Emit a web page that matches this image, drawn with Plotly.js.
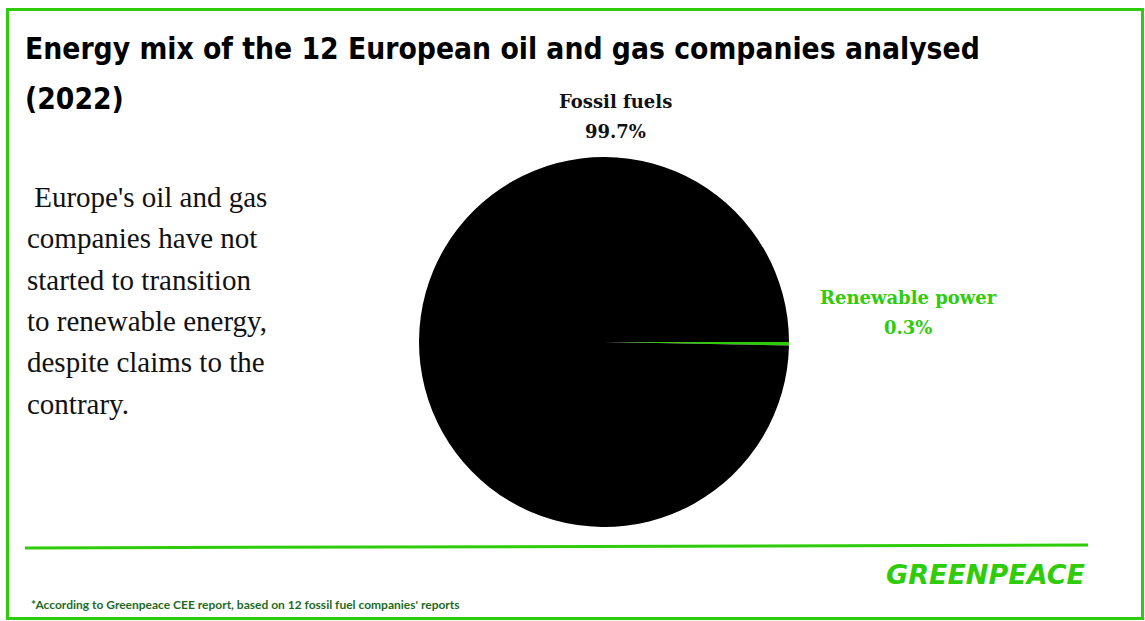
<!DOCTYPE html>
<html><head><meta charset="utf-8">
<script src="https://cdn.plot.ly/plotly-3.0.1.min.js"></script>
<style>html,body{margin:0;padding:0;background:#fff}#chart{width:1145px;height:621px}</style>
</head><body><div id="chart"></div>
<script>
const categories = ["Renewable power", "Fossil fuels"];
const shares = [0.3, 99.7];
const sliceColors = ["#2ECC0A", "#000000"];
const labelColors = ["#2ECC0A", "#111111"];
const titleLines = ["Energy mix of the 12 European oil and gas companies analysed", "(2022)"];
const bodyLines = [" Europe's oil and gas", "companies have not", "started to transition", "to renewable energy,", "despite claims to the", "contrary."];
const footnote = "*According to Greenpeace CEE report, based on 12 fossil fuel companies' reports";
const GREEN = "#2ECC0A";
const W = 1145, H = 621;
const px = x => x / W, py = y => 1 - y / H;

// pick an installed condensed font for the title
const cv = document.createElement("canvas").getContext("2d");
function widthOf(fam, size) { cv.font = "bold " + size + "px " + fam; return cv.measureText(titleLines[0]).width; }
const cands = ["Liberation Sans Narrow", "DejaVu Sans Condensed", "Roboto Condensed", "Arial Narrow", "Noto Sans Condensed", "Liberation Sans"];
let titleFam = "Liberation Sans";
for (const f of cands) {
  const a = widthOf("'" + f + "', monospace", 40), b = widthOf("monospace", 40);
  const c = widthOf("'" + f + "', serif", 40), d = widthOf("serif", 40);
  if (Math.abs(a - b) > 1 || Math.abs(c - d) > 1) { titleFam = f; break; }
}
const titleSize = Math.min(38, 37 * 955 / widthOf("'" + titleFam + "'", 37));

const annotations = [];
titleLines.forEach((t, i) => {
  annotations.push({text: "<b>" + t + "</b>", xref: "paper", yref: "paper", x: px(23), y: py(48 + i * 50),
    xanchor: "left", yanchor: "middle", showarrow: false, align: "left",
    font: {family: titleFam, size: titleSize, color: "#000"}});
});
bodyLines.forEach((t, i) => {
  annotations.push({text: t, xref: "paper", yref: "paper", x: px(25), y: py(197 + i * 41.3),
    xanchor: "left", yanchor: "middle", showarrow: false, align: "left",
    font: {family: "Liberation Serif, serif", size: 29, color: "#111"}});
});
const labelPos = [[908, 297], [615, 101]];
categories.forEach((c, i) => {
  [c, shares[i] + "%"].forEach((t, j) => {
    annotations.push({text: "<b>" + t + "</b>", xref: "paper", yref: "paper",
      x: px(labelPos[i][0]), y: py(labelPos[i][1] + j * 30), xanchor: "center", yanchor: "middle", showarrow: false,
      align: "center", font: {family: "DejaVu Serif, serif", size: 18, color: labelColors[i]}});
  });
});
annotations.push({text: "<b>" + footnote + "</b>", xref: "paper", yref: "paper", x: px(29), y: py(604),
  xanchor: "left", yanchor: "middle", showarrow: false,
  font: {family: "Lato, sans-serif", size: 12, color: "#1E6B1E"}});
annotations.push({text: "<b><i>GREENPEACE</i></b>", xref: "paper", yref: "paper", x: px(986), y: py(574),
  xanchor: "center", yanchor: "middle", showarrow: false,
  font: {family: "DejaVu Sans, sans-serif", size: 27, color: GREEN}});

const data = [{
  type: "pie", labels: categories, values: shares, sort: false, direction: "counterclockwise",
  rotation: 90, textinfo: "none", hoverinfo: "label+percent",
  marker: {colors: sliceColors, line: {width: 0}},
  domain: {x: [px(419), px(789)], y: [py(527), py(157)]}, showlegend: false
}];

const layout = {
  width: W, height: H, margin: {l: 0, r: 0, t: 0, b: 0},
  paper_bgcolor: "#fff", plot_bgcolor: "#fff",
  annotations: annotations,
  shapes: [
    {type: "rect", xref: "paper", yref: "paper", x0: px(7.5), x1: px(1142.5), y0: py(9.5), y1: py(618.5),
      line: {color: GREEN, width: 3}},
    {type: "line", xref: "paper", yref: "paper", x0: px(25), x1: px(1088), y0: py(548), y1: py(545),
      line: {color: GREEN, width: 3}}
  ]
};
Plotly.newPlot("chart", data, layout, {displayModeBar: false, staticPlot: true});
</script></body></html>
